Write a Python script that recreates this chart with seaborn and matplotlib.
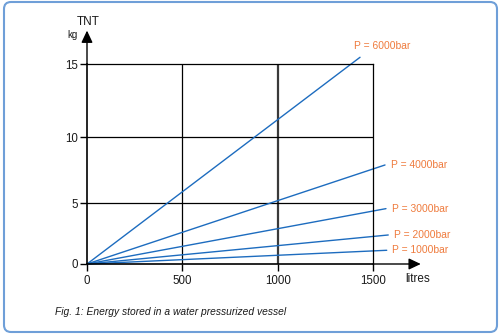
import numpy as np
import pandas as pd
import matplotlib
matplotlib.use("Agg")
import matplotlib.pyplot as plt
from matplotlib.patches import FancyBboxPatch, FancyArrowPatch
from matplotlib.transforms import IdentityTransform
import seaborn as sns

# ---- data ----
series = ["P = 6000bar", "P = 4000bar", "P = 3000bar", "P = 2000bar", "P = 1000bar"]
end_litres = [1432, 1563, 1568, 1580, 1572]
end_tnt = [15.46, 7.89, 4.56, 2.39, 1.13]
x_ticks = [0, 500, 1000, 1500]
y_ticks = [0, 5, 10, 15]
x_label = "litres"
y_label = "TNT"
y_unit = "kg"
caption = "Fig. 1: Energy stored in a water pressurized vessel"

rows = []
for name, xe, ye in zip(series, end_litres, end_tnt):
    rows.append({"series": name, "litres": 0, "tnt": 0})
    rows.append({"series": name, "litres": xe, "tnt": ye})
df = pd.DataFrame(rows)

sns.set_theme(style="white")
plt.rcParams["font.family"] = ["Liberation Sans", "DejaVu Sans"]

BLUE = "#1d6cbf"
ORANGE = "#ef7b3d"
TXT = "#1a1a1a"

fig = plt.figure(figsize=(5, 3.35), dpi=100)
fig.patch.set_facecolor("white")
ax = fig.add_axes([87 / 500, (335 - 264) / 335, 286 / 500, 200 / 335])
ax.set_facecolor("white")

# uneven vertical spacing of gridlines in the reference (piecewise scale)
kd = np.array([0.0, 5.0, 10.0, 15.0])
kp = np.array([0.0, 60.7, 127.0, 200.0])

def fwd(v):
    v = np.asarray(v, dtype=float)
    out = np.interp(v, kd, kp)
    out = np.where(v > 15, 200 + (v - 15) * 73 / 5, out)
    out = np.where(v < 0, v * 60.7 / 5, out)
    return out

def inv(p):
    p = np.asarray(p, dtype=float)
    out = np.interp(p, kp, kd)
    out = np.where(p > 200, 15 + (p - 200) * 5 / 73, out)
    out = np.where(p < 0, p * 5 / 60.7, out)
    return out

ax.set_yscale("function", functions=(fwd, inv))

sns.lineplot(data=df, x="litres", y="tnt", hue="series",
             palette=[BLUE] * len(series), legend=False, ax=ax,
             lw=1.0, clip_on=False, sort=False)

ax.set_xlim(0, 1500)
ax.set_ylim(0, 15)
ax.set_xticks(x_ticks)
ax.set_yticks(y_ticks)
ax.set_xticklabels([str(t) for t in x_ticks])
ax.set_yticklabels([str(t) for t in y_ticks])
ax.set_xlabel("")
ax.set_ylabel("")

for t in x_ticks[1:-1]:
    if t == 1000:
        ax.axvline(t, color="#3a3a3a", lw=1.6, zorder=1)
    else:
        ax.axvline(t, color="black", lw=0.9, zorder=1)
for t in y_ticks[1:-1]:
    ax.axhline(t, color="black", lw=0.9, zorder=1)

for s in ax.spines.values():
    s.set_visible(True)
    s.set_color("black")
    s.set_linewidth(0.9)
ax.spines["left"].set_linewidth(1.2)
ax.spines["bottom"].set_linewidth(1.2)

ax.tick_params(axis="both", which="major", direction="out", length=5,
               width=1, color="black", labelsize=8.3, labelcolor=TXT,
               left=True, bottom=True)
ax.tick_params(axis="y", pad=1.5)
ax.tick_params(axis="x", pad=3)

# axis arrows
arr_style = "-|>,head_length=0.72,head_width=0.34"
for start, end in [((0, 1), (0, 1.167)), ((1, 0), (1.167, 0))]:
    a = FancyArrowPatch(start, end, transform=ax.transAxes, arrowstyle=arr_style,
                        mutation_scale=10, color="black", lw=1.0,
                        shrinkA=0, shrinkB=0, clip_on=False)
    ax.add_patch(a)

# series labels
offsets = {"P = 6000bar": (-4.5, 7.8)}
for name, xe, ye in zip(series, end_litres, end_tnt):
    off = offsets.get(name, (4.0, 0))
    ax.annotate(name, xy=(xe, ye), xytext=off, textcoords="offset points",
                ha="left", va="center", color=ORANGE, fontsize=7.4,
                annotation_clip=False)

fig.text(88 / 500, 1 - 21.7 / 335, y_label, ha="center", va="center", fontsize=8.5, color=TXT)
fig.text(72.5 / 500, 1 - 35 / 335, y_unit, ha="center", va="center", fontsize=7, color=TXT)
fig.text(418 / 500, 1 - 279 / 335, x_label, ha="center", va="center", fontsize=8.4, color=TXT)
fig.text(55 / 500, 1 - 311.7 / 335, caption, ha="left", va="center", fontsize=7.4,
         style="italic", color=TXT)

border = FancyBboxPatch((4, 3), 493, 330, boxstyle="round,pad=0,rounding_size=7",
                        transform=IdentityTransform(), lw=1.5, ec="#6f9fd8",
                        fc="none", clip_on=False)
fig.patches.append(border)

fig.savefig("out.png", dpi=100)
